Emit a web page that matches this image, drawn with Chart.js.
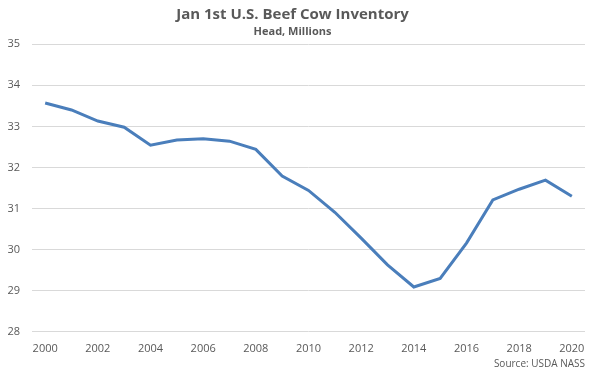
<!DOCTYPE html>
<html>
<head>
<meta charset="utf-8">
<script src="https://cdn.jsdelivr.net/npm/chart.js@4.4.0/dist/chart.umd.min.js"></script>
<style>
  html, body { margin: 0; padding: 0; background: #ffffff; }
  #wrap { width: 600px; height: 370px; }
</style>
</head>
<body>
<div id="wrap"><canvas id="beefChart"></canvas></div>
<script>
// Jan 1st beef cow inventory, head millions
var years = ["2000", "2001", "2002", "2003", "2004", "2005", "2006", "2007", "2008", "2009", "2010",
             "2011", "2012", "2013", "2014", "2015", "2016", "2017", "2018", "2019", "2020"];
var inventory = [33.57, 33.40, 33.13, 32.98, 32.54, 32.67, 32.70, 32.64, 32.44, 31.79, 31.44,
                 30.91, 30.28, 29.63, 29.09, 29.30, 30.16, 31.21, 31.47, 31.69, 31.30];
var yTicks = [28, 29, 30, 31, 32, 33, 34, 35];

var fontFam = "'Open Sans', 'Liberation Sans', sans-serif";
var grey = "#595959";

var ctx = document.getElementById("beefChart").getContext("2d");
var chart = new Chart(ctx, {
    type: "line",
    data: {
        labels: years,
        datasets: [{
            label: "Inventory",
            data: inventory,
            borderColor: "#4a7ebb",
            borderWidth: 3,
            pointRadius: 0,
            tension: 0,
            fill: false
        }]
    },
    options: {
        responsive: true,
        maintainAspectRatio: false,
        animation: false,
        layout: { padding: { left: 0, right: 15, top: 2, bottom: 0 } },
        plugins: {
            legend: { display: false },
            tooltip: { enabled: false },
            title: {
                display: true,
                text: "Jan 1st U.S. Beef Cow Inventory",
                color: grey,
                font: { family: fontFam, size: 15, weight: "bold" },
                padding: { top: 4, bottom: 0 }
            },
            subtitle: {
                display: true,
                text: "Head, Millions",
                color: grey,
                font: { family: fontFam, size: 11, weight: "bold" },
                padding: { top: 1, bottom: 6 }
            }
        },
        scales: {
            x: {
                type: "category",
                offset: true,
                grid: { display: false },
                border: { display: false },
                ticks: {
                    color: grey,
                    font: { family: fontFam, size: 11 },
                    autoSkip: false,
                    maxRotation: 0,
                    padding: 2,
                    callback: function (val, i) { return i % 2 === 0 ? years[i] : ""; }
                },
                title: {
                    display: true,
                    text: "Source: USDA NASS",
                    align: "end",
                    color: grey,
                    font: { family: fontFam, size: 10 },
                    padding: { top: 1, bottom: 0 }
                }
            },
            y: {
                min: yTicks[0],
                max: yTicks[yTicks.length - 1],
                afterFit: function (scale) { scale.width = 32; },
                afterBuildTicks: function (scale) {
                    scale.ticks = yTicks.map(function (v) { return { value: v }; });
                },
                grid: { color: "#d9d9d9", lineWidth: 1, drawTicks: false },
                border: { display: false },
                ticks: {
                    color: grey,
                    font: { family: fontFam, size: 11 },
                    padding: 12
                }
            }
        }
    }
});
</script>
</body>
</html>
